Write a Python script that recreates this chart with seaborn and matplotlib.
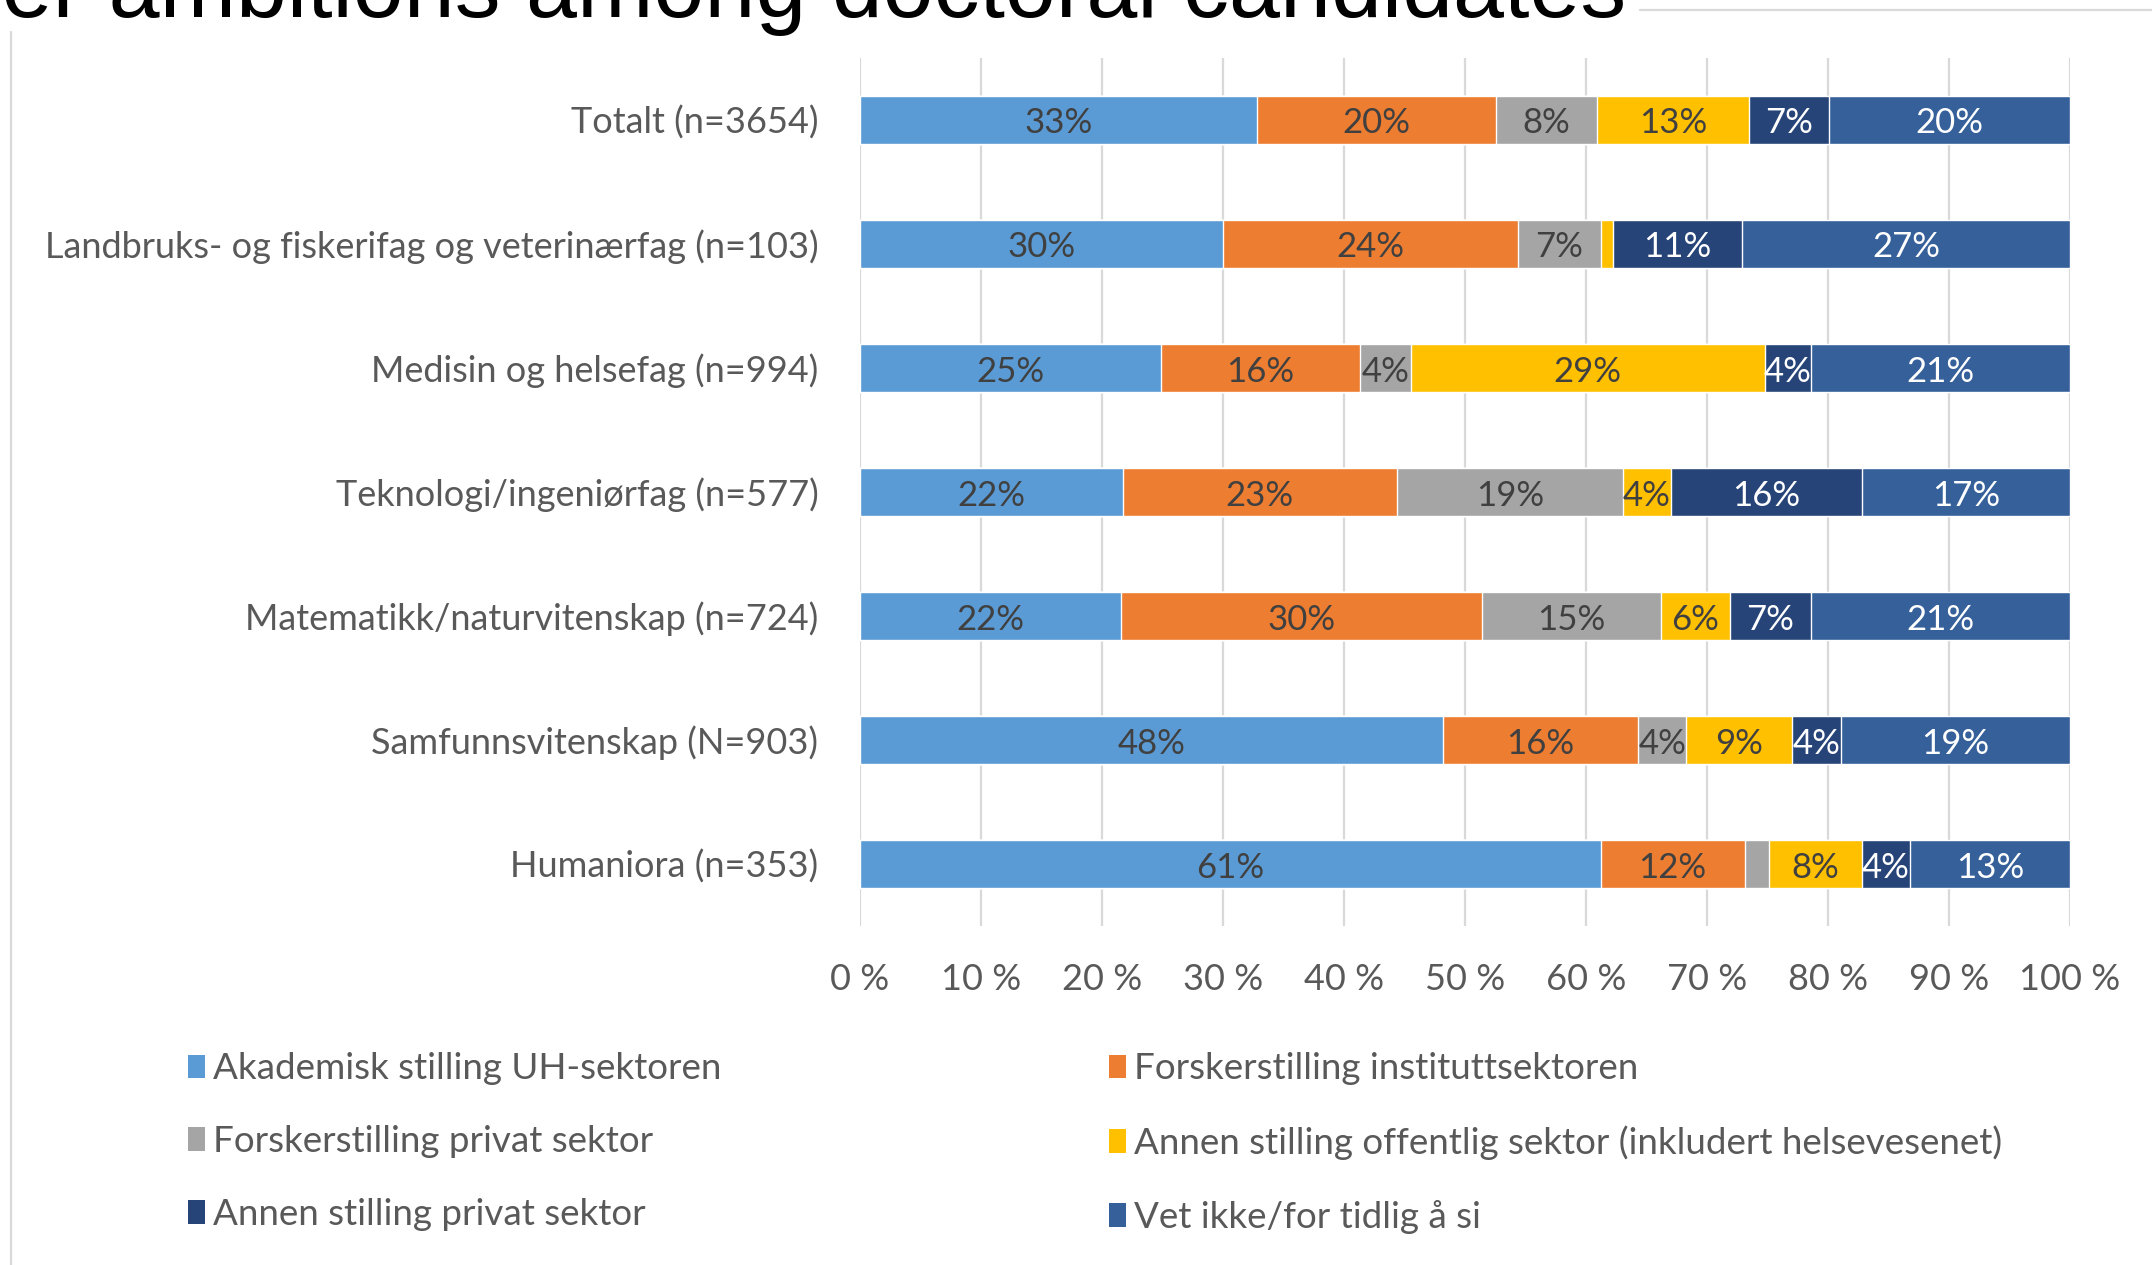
import pandas as pd
import matplotlib.pyplot as plt
from matplotlib.patches import Patch
from matplotlib.lines import Line2D
import seaborn as sns

categories = [
    "Totalt (n=3654)",
    "Landbruks- og fiskerifag og veterinærfag (n=103)",
    "Medisin og helsefag (n=994)",
    "Teknologi/ingeniørfag (n=577)",
    "Matematikk/naturvitenskap (n=724)",
    "Samfunnsvitenskap (N=903)",
    "Humaniora (n=353)",
]
series = [
    "Akademisk stilling UH-sektoren",
    "Forskerstilling instituttsektoren",
    "Forskerstilling privat sektor",
    "Annen stilling offentlig sektor (inkludert helsevesenet)",
    "Annen stilling privat sektor",
    "Vet ikke/for tidlig å si",
]
akademisk = [32.8, 30.0, 24.9, 21.7, 21.6, 48.2, 61.2]
institutt = [19.8, 24.4, 16.4, 22.7, 29.8, 16.1, 11.9]
privat_forsk = [8.3, 6.8, 4.2, 18.7, 14.8, 4.0, 2.0]
offentlig = [12.6, 1.0, 29.3, 3.9, 5.7, 8.7, 7.7]
privat_annen = [6.6, 10.7, 3.8, 15.8, 6.7, 4.1, 4.0]
vet_ikke = [19.9, 27.1, 21.4, 17.2, 21.4, 18.9, 13.2]
x_ticks = [0, 10, 20, 30, 40, 50, 60, 70, 80, 90, 100]
x_ticklabels = ["0 %", "10 %", "20 %", "30 %", "40 %", "50 %", "60 %", "70 %", "80 %", "90 %", "100 %"]

colors = ["#5B9BD5", "#ED7D31", "#A5A5A5", "#FFC000", "#264478", "#35609A"]
label_colors = ["#404040", "#404040", "#404040", "#404040", "white", "white"]

sns.set_style("white")
plt.rcParams["font.family"] = ["Lato", "DejaVu Sans"]

df = pd.DataFrame({"kategori": categories})
for name, vals in zip(series, [akademisk, institutt, privat_forsk, offentlig, privat_annen, vet_ikke]):
    df[name] = vals
cum = df[series].cumsum(axis=1)

fig = plt.figure(figsize=(21.52, 12.65), dpi=100)
ax = fig.add_axes([0.3996, 0.268, 0.5623, 0.6864])

# stacked bars: draw cumulative totals from the last series backwards
for name, color in reversed(list(zip(series, colors))):
    sns.barplot(x=cum[name], y=df["kategori"], orient="h", color=color,
                saturation=1, width=0.39, ax=ax, zorder=2)

for i in range(len(categories)):
    for j, name in enumerate(series):
        v = df[name][i]
        if v < 3:
            continue
        ax.text(cum[name][i] - v / 2, i + 0.03, f"{round(v)}%", ha="center", va="center",
                fontsize=25, color=label_colors[j], zorder=3)

ax.set_xlim(0, 100)
ax.set_xticks(x_ticks)
ax.set_xticklabels(x_ticklabels)
ax.set_xlabel("")
ax.set_ylabel("")
ax.xaxis.grid(True, color="#D9D9D9", lw=1.6)
ax.set_axisbelow(True)
ax.tick_params(axis="both", length=0, labelsize=26, labelcolor="#595959")
ax.tick_params(axis="x", pad=27)
ax.tick_params(axis="y", pad=30)
sns.despine(ax=ax, left=True, bottom=True)

handles = [Patch(facecolor=c, edgecolor="none") for c in colors]
for k, xpos in enumerate([0.0875, 0.5155]):
    leg = fig.legend(handles=handles[k::2], labels=series[k::2], loc="upper left",
                     bbox_to_anchor=(xpos, 0.168), frameon=False, fontsize=26.5,
                     handlelength=0.46, handleheight=0.62, handletextpad=0.2,
                     labelspacing=1.08, borderpad=0, borderaxespad=0)
    for t in leg.get_texts():
        t.set_color("#595959")

fig.text(0.7557, 0.9866, "Career ambitions among doctoral candidates", ha="right",
         va="baseline", fontsize=66, family="Liberation Sans", color="black")
fig.add_artist(Line2D([0.0051, 0.0051], [0.0, 0.975], transform=fig.transFigure,
                      color="#D9D9D9", lw=1.6))
fig.add_artist(Line2D([0.762, 1.0], [0.992, 0.992], transform=fig.transFigure,
                      color="#D9D9D9", lw=1.6))

fig.savefig("out.png", dpi=100)
